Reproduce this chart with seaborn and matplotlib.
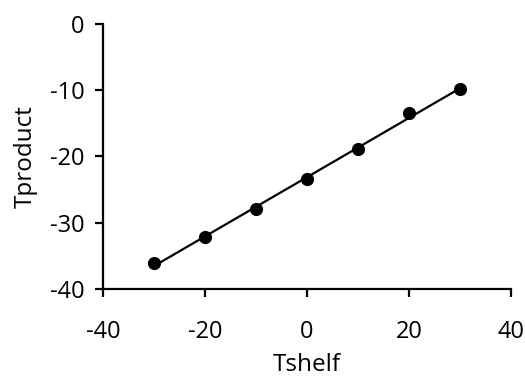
#!/usr/bin/env python3

import matplotlib

matplotlib.use("Agg")
import matplotlib.pyplot as plt
import pandas as pd
import seaborn as sns

tshelf = [-30, -20, -10, 0, 10, 20, 30]
tproduct = [-36.1, -32.2, -27.9, -23.4, -18.9, -13.5, -9.9]


def main():
    sns.set_style("ticks")
    plt.rcParams["font.family"] = ["Open Sans", "DejaVu Sans"]
    plt.rcParams["axes.unicode_minus"] = False

    data = pd.DataFrame({"Tshelf": tshelf, "Tproduct": tproduct})

    fig = plt.figure(figsize=(5.25, 3.78), dpi=100)
    ax = fig.add_axes([0.196, 0.235, 0.777, 0.702])
    sns.regplot(
        data=data,
        x="Tshelf",
        y="Tproduct",
        ci=None,
        color="black",
        scatter_kws={"s": 90, "alpha": 1, "linewidths": 0},
        line_kws={"lw": 1.6},
        ax=ax,
    )

    ax.set_xlim(-40, 40)
    ax.set_ylim(-40, 0)
    ax.set_xticks([-40, -20, 0, 20, 40])
    ax.set_yticks([-40, -30, -20, -10, 0])
    sns.despine(ax=ax)
    for s in ["left", "bottom"]:
        ax.spines[s].set_linewidth(1.6)
        ax.spines[s].set_color("black")
    ax.tick_params(width=1.6, length=6, labelsize=17, colors="black")
    ax.tick_params(axis="x", pad=16)
    ax.tick_params(axis="y", pad=7)
    ax.set_xlabel("Tshelf", fontsize=17.5, color="black", labelpad=7)
    ax.set_ylabel("Tproduct", fontsize=17.5, color="black", labelpad=9)

    fig.savefig("out.png", dpi=100)


if __name__ == "__main__":
    main()
